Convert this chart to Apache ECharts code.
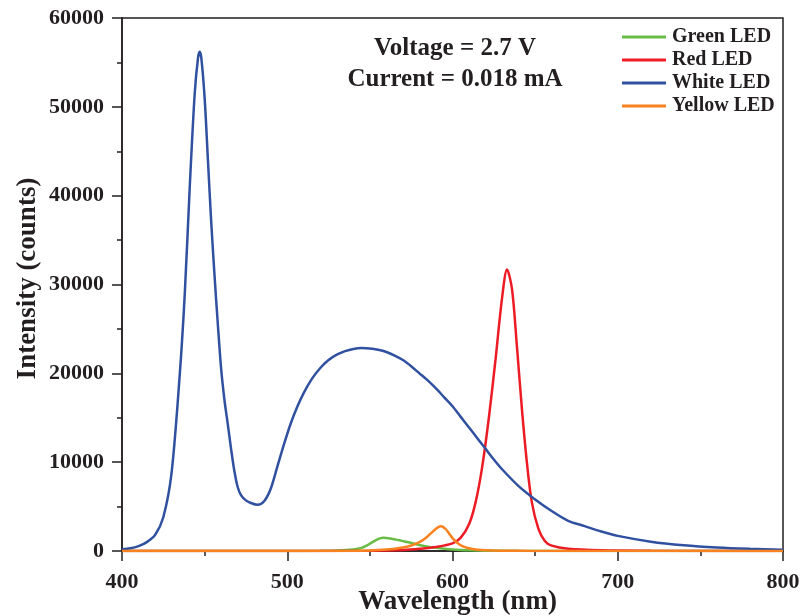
<!DOCTYPE html>
<html><head><meta charset="utf-8">
<script src="https://cdn.jsdelivr.net/npm/echarts@6/dist/echarts.min.js"></script>
<style>html,body{margin:0;padding:0;background:#fff}#c{width:802px;height:616px}</style>
</head><body><div id="c"></div>
<script>
const seriesNames = ['Green LED','Red LED','White LED','Yellow LED'];
const seriesColors = ['#67bd45','#ed1c24','#3050a0','#f7821f'];
const xTicks = [400,500,600,700,800];
const yTicks = [0,10000,20000,30000,40000,50000,60000];

const greenWl = [400,450,500,520,530,540,545,548,551,554,556,558,560,563,566,568,571,574,578,582,586,590,595,600,605,610,620,640,700,800];
const greenI  = [0,0,0,20,60,180,350,600,950,1250,1420,1500,1470,1380,1280,1200,1080,950,760,600,460,360,260,180,120,80,40,15,0,0];

const redWl = [400,500,550,570,580,590,600,605,610,614,618,622,626,630,633,636,639,642,645,648,652,656,660,670,690,720,800];
const redI  = [0,0,30,120,250,450,850,1500,3000,5500,9500,15000,21500,28500,31700,29500,23000,16000,10000,5500,2500,1100,600,250,80,30,0];

const whiteWl = [400,405,410,415,420,425,430,435,438,441,444,446,447,448,450,452,454,456,458,460,462,464,466,468,470,472,475,478,482,486,490,494,498,502,506,510,515,520,525,530,535,540,545,550,555,560,565,570,575,580,585,590,595,600,605,610,615,620,625,630,640,650,660,670,680,690,700,720,740,760,780,800];
const whiteI  = [200,300,550,1000,1800,3800,8800,20000,29000,41000,51500,55500,56200,55500,51000,44000,37000,31000,25500,20500,17000,14300,11500,9000,7200,6300,5700,5400,5200,5600,7000,9500,12000,14300,16200,17800,19400,20600,21500,22100,22500,22750,22850,22800,22650,22400,22000,21500,20800,20000,19200,18300,17300,16300,15100,13900,12700,11500,10300,9200,7300,5800,4500,3400,2800,2200,1700,1050,650,400,250,150];

const yellowWl = [400,500,540,550,560,565,570,575,580,584,587,590,592,593,594,596,598,600,603,606,610,615,620,630,650,700,800];
const yellowI  = [0,0,20,60,160,260,400,620,1000,1500,2000,2500,2750,2800,2750,2450,1950,1450,900,550,300,150,80,30,10,0,0];

const wls = [greenWl, redWl, whiteWl, yellowWl];
const ints = [greenI, redI, whiteI, yellowI];

const FONT = 'Liberation Serif';
const TXT = '#231f20';
const chart = echarts.init(document.getElementById('c'), null, {renderer:'canvas'});
chart.setOption({
  animation: false,
  backgroundColor: '#fff',
  grid: {left:122, right:19, top:18, bottom:65, show:true, borderColor:'#231f20', borderWidth:1.5, backgroundColor:'transparent', containLabel:false, outerBoundsMode:'none'},
  xAxis: {
    type:'value', min:400, max:800, interval:100,
    name:'Wavelength (nm)', nameLocation:'middle', nameGap:38, nameMoveOverlap:false,
    nameTextStyle:{fontFamily:FONT, fontWeight:'bold', fontSize:27, color:TXT, padding:[0,0,0,10]},
    axisLine:{onZero:false, lineStyle:{color:'#231f20', width:1.5}},
    axisTick:{inside:false, length:10, lineStyle:{color:'#231f20', width:1.5}},
    minorTick:{show:true, splitNumber:2, length:5, lineStyle:{color:'#231f20', width:1.5}},
    axisLabel:{fontFamily:FONT, fontWeight:'bold', fontSize:22, color:TXT, margin:20,
      formatter: v => xTicks.includes(v) ? String(v) : ''},
    splitLine:{show:false}
  },
  yAxis: {
    type:'value', min:0, max:60000, interval:10000,
    name:'Intensity (counts)', nameLocation:'middle', nameGap:80, nameRotate:90, nameMoveOverlap:false,
    nameTextStyle:{fontFamily:FONT, fontWeight:'bold', fontSize:27, color:TXT, padding:[0,0,0,12]},
    axisLine:{show:true, lineStyle:{color:'#231f20', width:1.5}},
    axisTick:{show:true, inside:false, length:10, lineStyle:{color:'#231f20', width:1.5}},
    minorTick:{show:true, splitNumber:2, length:5, lineStyle:{color:'#231f20', width:1.5}},
    axisLabel:{fontFamily:FONT, fontWeight:'bold', fontSize:22, color:TXT, margin:18,
      formatter: v => yTicks.includes(v) ? String(v) : ''},
    splitLine:{show:false}
  },
  legend: {
    orient:'vertical', left:617, top:22, itemWidth:44, itemHeight:3, itemGap:3,
    icon:'rect',
    data: seriesNames,
    textStyle:{fontFamily:FONT, fontWeight:'bold', fontSize:20, color:TXT, padding:[0,0,0,1]}
  },
  graphic: [
    {type:'text', style:{text:'Voltage = 2.7 V', x:455, y:49, textAlign:'center', textVerticalAlign:'middle', font:'bold 25px "Liberation Serif"', fill:TXT}},
    {type:'text', style:{text:'Current = 0.018 mA', x:455, y:80, textAlign:'center', textVerticalAlign:'middle', font:'bold 25px "Liberation Serif"', fill:TXT}}
  ],
  series: seriesNames.map((n,i)=>({
    name:n, type:'line', symbol:'none', smooth:0.3,
    color: seriesColors[i],
    lineStyle:{width:2.5, color:seriesColors[i]},
    data: wls[i].map((w,j)=>[w, ints[i][j]])
  }))
});
</script></body></html>
